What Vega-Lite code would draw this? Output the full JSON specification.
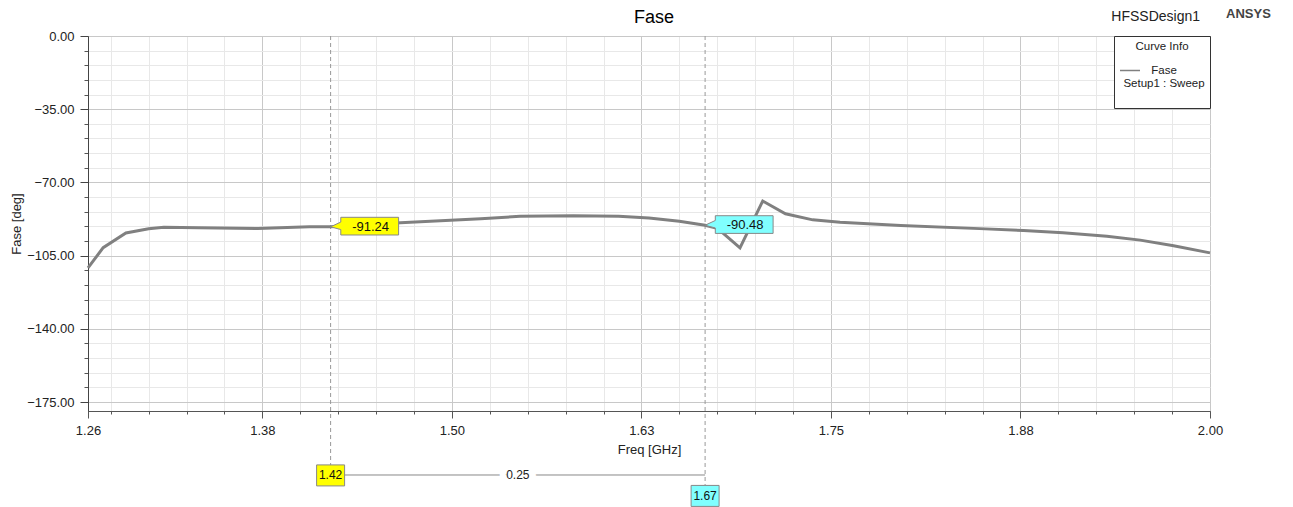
{
  "$schema": "https://vega.github.io/schema/vega-lite/v6.json",
  "autosize": {"type": "none"},
  "width": 1122,
  "height": 375,
  "padding": {"left": 88, "top": 36, "right": 83, "bottom": 96},
  "background": "white",
  "config": {
    "font": "Liberation Sans",
    "view": {"stroke": "#444", "strokeWidth": 1},
    "axis": {"labelFont": "Liberation Sans", "titleFont": "Liberation Sans", "labelColor": "#222", "titleColor": "#222", "titleFontWeight": "normal", "labelFlush": false},
    "legend": {"labelFont": "Liberation Sans", "titleFont": "Liberation Sans"}
  },
  "title": {"text": "Fase", "fontSize": 18, "fontWeight": "normal", "font": "Liberation Sans", "color": "#000", "offset": 11, "dy": 30, "anchor": "middle", "dx": 5},
  "datasets": {
    "curve": [
      {"f": 1.260, "v": -110.9},
      {"f": 1.270, "v": -101.2},
      {"f": 1.285, "v": -94.2},
      {"f": 1.300, "v": -92.2},
      {"f": 1.310, "v": -91.4},
      {"f": 1.333, "v": -91.7},
      {"f": 1.372, "v": -92.1},
      {"f": 1.406, "v": -91.2},
      {"f": 1.420, "v": -91.24},
      {"f": 1.466, "v": -89.3},
      {"f": 1.519, "v": -87.4},
      {"f": 1.545, "v": -86.2},
      {"f": 1.580, "v": -85.9},
      {"f": 1.610, "v": -86.2},
      {"f": 1.630, "v": -87.0},
      {"f": 1.650, "v": -88.6},
      {"f": 1.667, "v": -90.48},
      {"f": 1.675, "v": -91.9},
      {"f": 1.690, "v": -101.3},
      {"f": 1.705, "v": -78.9},
      {"f": 1.720, "v": -85.0},
      {"f": 1.738, "v": -87.9},
      {"f": 1.756, "v": -89.0},
      {"f": 1.796, "v": -90.6},
      {"f": 1.848, "v": -92.1},
      {"f": 1.877, "v": -93.0},
      {"f": 1.903, "v": -94.1},
      {"f": 1.932, "v": -95.7},
      {"f": 1.954, "v": -97.6},
      {"f": 1.976, "v": -100.3},
      {"f": 2.000, "v": -103.7}
    ],
    "markers": [
      {"m": "m1", "f": 1.420, "v": -91.24, "vlab": "-91.24", "flab": "1.42"},
      {"m": "m2", "f": 1.667, "v": -90.48, "vlab": "-90.48", "flab": "1.67"}
    ],
    "delta": [
      {"f1": 1.420, "f2": 1.667, "fmid": 1.5435, "d": "0.25"}
    ]
  },
  "layer": [
    {
      "data": {"name": "curve"},
      "mark": {"type": "line", "strokeOpacity": 0},
      "encoding": {
        "x": {"field": "f", "type": "quantitative", "scale": {"domain": [1.26, 2.0], "nice": false, "zero": false},
          "axis": {"orient": "bottom", "values": [1.275,1.3,1.325,1.35,1.375,1.4,1.425,1.45,1.475,1.5,1.525,1.55,1.575,1.6,1.625,1.65,1.675,1.7,1.725,1.75,1.775,1.8,1.825,1.85,1.875,1.9,1.925,1.95,1.975],
            "grid": true, "gridColor": "#e8e8e8", "labels": false, "title": null, "tickSize": 3, "tickColor": "#555", "domain": false}},
        "y": {"field": "v", "type": "quantitative", "scale": {"domain": [-179.3, 0], "nice": false, "zero": false},
          "axis": {"orient": "left", "values": [-7,-14,-21,-28,-42,-49,-56,-63,-77,-84,-91,-98,-112,-119,-126,-133,-147,-154,-161,-168],
            "grid": true, "gridColor": "#e8e8e8", "labels": false, "title": null, "tickSize": 4, "tickColor": "#555", "domain": false}}
      }
    },
    {
      "data": {"name": "markers"},
      "transform": [{"filter": "datum.m == 'm1'"}],
      "mark": {"type": "rule", "color": "#999", "strokeDash": [4, 3], "strokeWidth": 1},
      "encoding": {
        "x": {"field": "f", "type": "quantitative", "axis": null},
        "y": {"datum": 0, "axis": null},
        "y2": {"datum": -205.1}
      }
    },
    {
      "data": {"name": "markers"},
      "transform": [{"filter": "datum.m == 'm2'"}],
      "mark": {"type": "rule", "color": "#999", "strokeDash": [4, 3], "strokeWidth": 1},
      "encoding": {
        "x": {"field": "f", "type": "quantitative", "axis": null},
        "y": {"datum": 0, "axis": null},
        "y2": {"datum": -214.7}
      }
    },
    {
      "data": {"name": "curve"},
      "mark": {"type": "line", "strokeWidth": 3, "interpolate": "linear"},
      "encoding": {
        "x": {"field": "f", "type": "quantitative",
          "axis": {"orient": "bottom", "values": [1.26, 1.375, 1.5, 1.625, 1.75, 1.875, 2.0], "format": ".2f",
            "grid": true, "gridColor": "#c8c8c8", "labelFontSize": 13, "labelPadding": 6, "tickSize": 7, "tickColor": "#555",
            "domainColor": "#555", "title": "Freq [GHz]", "titleFontSize": 13, "titlePadding": 6}},
        "y": {"field": "v", "type": "quantitative",
          "axis": {"orient": "left", "values": [0, -35, -70, -105, -140, -175], "format": ".2f",
            "grid": true, "gridColor": "#c8c8c8", "labelFontSize": 13, "labelPadding": 6, "tickSize": 8, "tickColor": "#444",
            "domainColor": "#444", "title": "Fase [deg]", "titleFontSize": 13, "titlePadding": 3}},
        "color": {"datum": "Fase", "scale": {"range": ["#808080"]},
          "legend": {"orient": "top-right", "offset": 0, "title": "Curve Info", "titleAnchor": "middle", "titleAlign": "center",
            "titleFontSize": 11.5, "titleFontWeight": "normal", "titleColor": "#222", "titlePadding": 7,
            "fillColor": "white", "strokeColor": "#333", "padding": 5,
            "symbolType": "stroke", "symbolStrokeWidth": 1.5, "symbolSize": 400, "symbolStrokeColor": "#808080",
            "labelExpr": "['Fase', 'Setup1 : Sweep', '']", "labelFontSize": 11.5, "labelColor": "#222", "labelOffset": 23, "labelAlign": "center", "labelBaseline": "middle"}}
      }
    },
    {
      "data": {"name": "delta"},
      "mark": {"type": "rule", "color": "#888", "strokeWidth": 1},
      "encoding": {
        "x": {"field": "f1", "type": "quantitative", "axis": null},
        "x2": {"field": "f2"},
        "y": {"datum": -209.9, "axis": null}
      }
    },
    {
      "data": {"name": "delta"},
      "mark": {"type": "text", "fontSize": 12, "color": "white", "stroke": "white", "strokeWidth": 14, "baseline": "middle", "align": "center"},
      "encoding": {
        "x": {"field": "fmid", "type": "quantitative", "axis": null},
        "y": {"datum": -209.9, "axis": null},
        "text": {"field": "d"}
      }
    },
    {
      "data": {"name": "delta"},
      "mark": {"type": "text", "fontSize": 12, "color": "#222", "baseline": "middle", "align": "center"},
      "encoding": {
        "x": {"field": "fmid", "type": "quantitative", "axis": null},
        "y": {"datum": -209.9, "axis": null},
        "text": {"field": "d"}
      }
    },
    {
      "data": {"name": "markers"},
      "mark": {"type": "point", "filled": true, "shape": "M0,0L0.15,-0.07L0.15,-0.14L1,-0.14L1,0.12L0.15,0.12L0.15,0.04Z", "size": 18496, "stroke": "#888", "strokeWidth": 1, "opacity": 1},
      "encoding": {
        "x": {"field": "f", "type": "quantitative", "axis": null},
        "y": {"field": "v", "type": "quantitative", "axis": null},
        "fill": {"field": "m", "type": "nominal", "scale": {"domain": ["m1", "m2"], "range": ["#ffff00", "#80ffff"]}, "legend": null}
      }
    },
    {
      "data": {"name": "markers"},
      "mark": {"type": "text", "fontSize": 13, "color": "#111", "dx": 40, "baseline": "middle", "align": "center"},
      "encoding": {
        "x": {"field": "f", "type": "quantitative", "axis": null},
        "y": {"field": "v", "type": "quantitative", "axis": null},
        "text": {"field": "vlab"}
      }
    },
    {
      "data": {"name": "markers"},
      "transform": [{"filter": "datum.m == 'm1'"}],
      "mark": {"type": "point", "filled": true, "shape": "M-1,-0.75L1,-0.75L1,0.75L-1,0.75Z", "size": 784, "stroke": "#888", "strokeWidth": 1, "opacity": 1, "fill": "#ffff00"},
      "encoding": {
        "x": {"field": "f", "type": "quantitative", "axis": null},
        "y": {"datum": -210.1, "axis": null}
      }
    },
    {
      "data": {"name": "markers"},
      "transform": [{"filter": "datum.m == 'm1'"}],
      "mark": {"type": "text", "fontSize": 12, "color": "#111", "baseline": "middle", "align": "center"},
      "encoding": {
        "x": {"field": "f", "type": "quantitative", "axis": null},
        "y": {"datum": -210.1, "axis": null},
        "text": {"field": "flab"}
      }
    },
    {
      "data": {"name": "markers"},
      "transform": [{"filter": "datum.m == 'm2'"}],
      "mark": {"type": "point", "filled": true, "shape": "M-1,-0.75L1,-0.75L1,0.75L-1,0.75Z", "size": 784, "stroke": "#888", "strokeWidth": 1, "opacity": 1, "fill": "#80ffff"},
      "encoding": {
        "x": {"field": "f", "type": "quantitative", "axis": null},
        "y": {"datum": -219.9, "axis": null}
      }
    },
    {
      "data": {"name": "markers"},
      "transform": [{"filter": "datum.m == 'm2'"}],
      "mark": {"type": "text", "fontSize": 12, "color": "#111", "baseline": "middle", "align": "center"},
      "encoding": {
        "x": {"field": "f", "type": "quantitative", "axis": null},
        "y": {"datum": -219.9, "axis": null},
        "text": {"field": "flab"}
      }
    },
    {
      "data": {"values": [{"t": "HFSSDesign1"}]},
      "mark": {"type": "text", "fontSize": 14, "color": "#222", "baseline": "middle", "align": "right"},
      "encoding": {
        "x": {"datum": 1.9934, "axis": null},
        "y": {"datum": 9.1, "axis": null},
        "text": {"field": "t"}
      }
    },
    {
      "data": {"values": [{"t": "ANSYS"}]},
      "mark": {"type": "text", "fontSize": 13, "fontWeight": "bold", "color": "#444", "baseline": "middle", "align": "left"},
      "encoding": {
        "x": {"datum": 2.0106, "axis": null},
        "y": {"datum": 10.5, "axis": null},
        "text": {"field": "t"}
      }
    }
  ],
  "resolve": {"axis": {"x": "independent", "y": "independent"}}
}
